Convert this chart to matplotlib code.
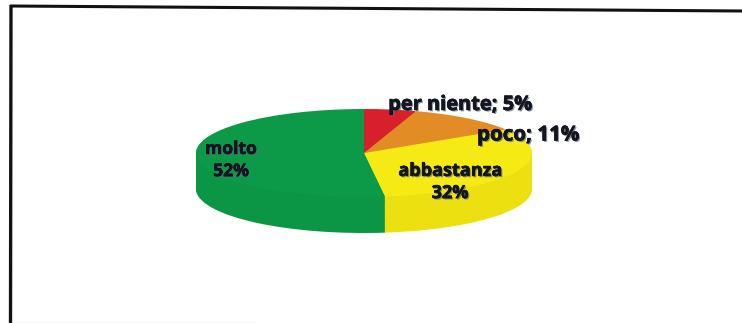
import matplotlib
matplotlib.use('Agg')
import matplotlib.pyplot as plt
import matplotlib.patheffects as pe
import numpy as np

labels = ['per niente; 5%', 'poco; 11%', 'abbastanza\n32%', 'molto\n52%']
shares = [5, 11, 32, 52]
top_colors = ['#d8202c', '#e28c26', '#f6ea14', '#0c9a48']
side_colors = ['#b81c26', '#c87a22', '#ece010', '#0b9645']

W, H = 742, 323
# centre and radii of the disc, depth of the rim (pixels)
cx, cy, rx, ry, depth = 364, 153, 168, 44, 36

plt.rcParams['font.family'] = ['Open Sans', 'DejaVu Sans']

fig = plt.figure(figsize=(W / 100, H / 100), dpi=100)
ax = fig.add_axes([0, 0, 1, 1])

# stack of shifted pies makes the rim
for off in np.linspace(depth / ry, 0.02, 40):
    ax.pie(shares, colors=side_colors, startangle=90, counterclock=False,
           center=(0, -off), radius=1)
ax.pie(shares, colors=top_colors, startangle=90, counterclock=False,
       center=(0, 0), radius=1)

ax.set_aspect('auto')
ax.set_xlim(-cx / rx, (W - cx) / rx)
ax.set_ylim(-(H - cy) / ry, cy / ry)

# frame lines of the box, given in pixels from the top left corner
def frame_line(xs, ys, **kw):
    ax.plot([x / W for x in xs], [1 - y / H for y in ys], transform=ax.transAxes,
            clip_on=False, solid_capstyle='butt', **kw)

frame_line([10, 742], [6, 11], color='#111111', lw=2.2)
frame_line([11, 10.5], [5, 323], color='#111111', lw=2.4)
frame_line([11, 255], [322.5, 322.5], color='#c8c8c8', lw=1)

shadow = [pe.withSimplePatchShadow(offset=(1, -1), shadow_rgbFace='#5a6a80', alpha=0.7),
          pe.withStroke(linewidth=0.4, foreground='#15151f')]
label_px = [(460, 105), (528, 135), (450, 182), (231, 160)]
label_sizes = [14.4, 14.8, 13, 12.6]
for text, (px, py), size in zip(labels, label_px, label_sizes):
    ax.text((px - cx) / rx, (cy - py) / ry, text, ha='center', va='center',
            fontsize=size, fontweight='bold', color='#15151f', linespacing=1.3,
            path_effects=shadow)

fig.savefig('out.png', dpi=100)
